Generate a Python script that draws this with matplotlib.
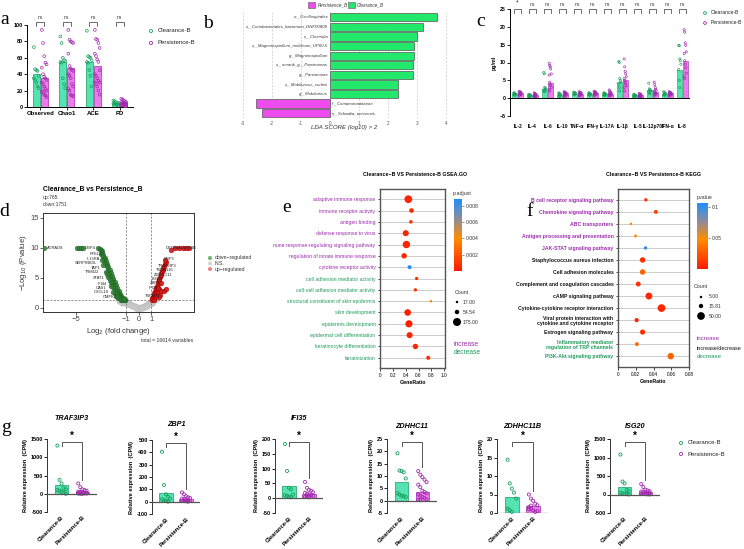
import numpy as np
import matplotlib
matplotlib.use('Agg')
import matplotlib.pyplot as plt
from matplotlib.colors import LinearSegmentedColormap, Normalize
from matplotlib.cm import ScalarMappable
from matplotlib.patches import Rectangle

# ====================== DATA ======================
# ---- panel a ----
a_groups = ['Observed', 'Chao1', 'ACE', 'PD']
a_clear_bar = [40, 55, 55, 5]
a_pers_bar = [35, 47, 50, 5]
a_clear_pts = [
    [73, 46, 45, 44, 38, 35, 33, 30, 25, 23],
    [86, 78, 60, 57, 56, 55, 54, 35, 28, 23],
    [93, 62, 61, 60, 57, 55, 54, 45, 38, 25],
    [8, 7, 6, 5, 5, 4, 4, 3, 3, 2],
]
a_pers_pts = [
    [94, 78, 62, 54, 52, 48, 40, 37, 35, 33, 30, 28, 25, 22, 20, 19, 18, 15, 14, 12],
    [94, 82, 80, 79, 78, 65, 50, 47, 45, 44, 40, 38, 35, 28, 25, 22, 20, 15, 14, 13],
    [94, 83, 82, 78, 72, 65, 62, 58, 55, 45, 40, 38, 35, 32, 30, 30, 28, 25, 20, 15],
    [10, 9, 8, 7, 6, 6, 5, 5, 5, 4, 4, 4, 3, 3, 3, 2, 2, 2, 1, 1],
]
a_sig = ['ns', 'ns', 'ns', 'ns']

# ---- panel b (LEfSe) ----
b_taxa = ['o__Oscillospirales', 's__Coriobacteriales_bacterium_DNF00809', 'c__Clostridia',
          's__Magnetospirillum_moliticum_UP60-5', 'g__Magnetospirillum', 's__norank_g__Parvimonas',
          'g__Parvimonas', 's__Mobiluncus_curtisii', 'g__Mobiluncus', 'f__Comamonadaceae',
          's__Schaalia_turicensis']
b_lda = [3.7, 3.2, 3.0, 2.9, 2.9, 2.85, 2.85, 2.35, 2.35, -2.55, -2.35]
b_ticks = [-3, -2, -1, 0, 1, 2, 3, 4]

# ---- panel c (cytokines) ----
c_cyto = ['IL-2', 'IL-4', 'IL-6', 'IL-10', 'TNF-α', 'IFN-γ', 'IL-17A', 'IL-1β', 'IL-5',
          'IL-12p70', 'IFN-α', 'IL-8']
c_clear_bar = [1.2, 0.8, 2.5, 1.0, 1.3, 1.2, 1.2, 4.5, 0.8, 2.2, 1.2, 8.0]
c_pers_bar = [1.5, 1.0, 4.3, 1.5, 1.3, 1.5, 1.3, 5.2, 0.8, 1.8, 1.4, 10.5]
c_clear_pts = [
    [1.5, 1.4, 1.3, 1.2, 1.1, 1.0, 0.9, 0.8],
    [1.1, 1.0, 0.9, 0.8, 0.7, 0.6, 0.5, 0.4],
    [7.2, 6.8, 3.0, 2.8, 2.5, 2.3, 2.0, 1.8],
    [1.5, 1.3, 1.2, 1.0, 0.9, 0.8, 0.6, 0.5],
    [1.7, 1.6, 1.5, 1.4, 1.3, 1.2, 1.1, 1.0],
    [1.5, 1.4, 1.3, 1.2, 1.1, 1.0, 0.9, 0.8],
    [1.5, 1.4, 1.3, 1.2, 1.1, 1.0, 0.9, 0.8],
    [10.3, 10.0, 5.5, 5.0, 4.5, 4.0, 3.0, 2.0],
    [1.1, 1.0, 0.9, 0.8, 0.7, 0.6, 0.5, 0.4],
    [4.2, 2.6, 2.4, 2.2, 2.0, 1.8, 1.5, 1.2],
    [1.8, 1.6, 1.4, 1.3, 1.2, 1.0, 0.9, 0.8],
    [14.8, 14.7, 11.0, 10.5, 9.5, 8.0, 5.0, 3.0],
]
c_pers_pts = [
    [1.9, 1.8, 1.7, 1.6, 1.5, 1.4, 1.3, 1.2, 1.1, 1.0, 0.9, 0.8],
    [1.5, 1.3, 1.2, 1.1, 1.0, 0.9, 0.8, 0.7, 0.6, 0.5, 0.4, 0.3],
    [9.8, 9.2, 8.8, 8.2, 6.8, 6.5, 4.5, 4.0, 3.5, 3.0, 2.5, 2.0],
    [1.8, 1.7, 1.6, 1.5, 1.4, 1.3, 1.2, 1.1, 1.0, 0.8, 0.6, 0.5],
    [1.8, 1.7, 1.6, 1.5, 1.4, 1.3, 1.2, 1.1, 1.0, 0.9, 0.8, 0.7],
    [1.9, 1.8, 1.7, 1.6, 1.5, 1.4, 1.3, 1.2, 1.1, 1.0, 0.9, 0.8],
    [2.3, 2.0, 1.7, 1.5, 1.4, 1.3, 1.2, 1.1, 1.0, 0.9, 0.8, 0.7],
    [11.0, 8.8, 7.5, 6.8, 6.0, 5.5, 5.0, 4.5, 4.0, 3.5, 3.0, 2.0],
    [1.3, 1.2, 1.1, 1.0, 0.9, 0.8, 0.7, 0.6, 0.5, 0.4, 0.3, 0.2],
    [4.5, 3.8, 3.0, 2.5, 2.2, 2.0, 1.8, 1.5, 1.3, 1.1, 1.0, 0.8],
    [1.8, 1.7, 1.6, 1.5, 1.4, 1.3, 1.2, 1.1, 1.0, 0.9, 0.8, 0.7],
    [19.2, 18.5, 15.5, 14.8, 13.0, 12.5, 10.5, 9.5, 8.5, 7.0, 6.0, 5.5],
]
c_sig = ['*'] + ['ns'] * 11

# ---- panel d (volcano) ----
d_down_x = [-7.5, -4.9, -4.75, -4.6, -4.45, -3.2, -3.1, -3.0, -2.95, -2.9, -3.0, -2.8, -2.85, -2.7,
            -2.75, -2.6, -2.65, -2.5, -2.55, -2.4, -2.45, -2.3, -2.35, -2.2, -2.25, -2.1, -2.15, -2.0,
            -2.05, -1.9, -1.95, -1.8, -1.85, -1.7, -1.75, -1.6, -1.65, -1.5, -1.55, -1.4, -1.45, -1.3,
            -1.35, -1.2, -1.1, -1.05, -2.6, -2.4, -2.3, -2.1, -2.0, -1.9, -1.8, -1.7, -1.6, -1.5, -1.4,
            -2.8, -2.5, -2.2, -1.9, -1.7, -1.3, -2.9, -2.2, -2.0, -1.8, -1.6, -1.4, -1.25, -1.15]
d_down_y = [10.0, 10.0, 10.0, 10.0, 10.0, 9.9, 9.8, 9.7, 9.4, 9.1, 8.9, 8.8, 8.4, 8.3,
            7.9, 7.8, 7.4, 7.3, 6.9, 6.8, 6.4, 6.3, 5.9, 5.8, 5.4, 5.3, 4.9, 4.8,
            4.4, 4.3, 3.9, 3.8, 3.4, 3.3, 2.9, 2.8, 2.5, 2.4, 2.1, 2.0, 1.8, 1.7,
            1.5, 1.5, 1.4, 1.35, 6.0, 5.2, 4.6, 4.0, 3.5, 3.0, 2.6, 2.2, 1.9, 1.6, 1.4,
            7.2, 5.6, 4.4, 2.5, 1.8, 1.35, 8.0, 3.6, 2.6, 2.0, 1.6, 1.45, 1.6, 1.5]
d_up_x = [1.05, 1.1, 1.15, 1.2, 1.25, 1.3, 1.35, 1.4, 1.45, 1.5, 1.55, 1.6, 1.65, 1.7, 1.75, 1.8,
          1.85, 1.9, 1.95, 2.0, 2.1, 2.2, 1.2, 1.3, 1.4, 1.5, 1.6, 1.25, 1.8, 1.7, 2.0, 1.6, 2.2,
          1.35, 1.5, 1.75, 2.1, 2.6, 2.9, 3.2, 3.5, 3.8, 4.0]
d_up_y = [1.35, 1.6, 1.9, 2.2, 2.5, 2.8, 3.1, 3.4, 3.7, 4.0, 4.3, 4.6, 4.9, 5.2, 5.5, 5.8,
          6.1, 6.4, 6.7, 7.0, 7.3, 7.6, 1.5, 1.9, 2.3, 2.7, 3.2, 1.4, 2.8, 2.2, 2.9, 1.9, 3.2,
          2.0, 3.3, 4.2, 8.0, 9.7, 10.0, 10.0, 10.0, 10.0, 10.0]
d_ns_x = [-1.6, -1.5, -1.4, -1.3, -1.2, -1.1, -1.0, -0.9, -0.8, -0.7, -0.6, -0.5, -0.4, -0.3,
          -0.2, -0.1, 0.0, 0.1, 0.2, 0.3, 0.4, 0.5, 0.6, 0.7, 0.8, 0.9, 1.0, 1.1, 1.2, 1.3,
          -1.3, -1.1, -0.9, -0.7, -0.5, -0.3, -0.1, 0.1, 0.3, 0.5, 0.7, 0.9, 1.1, -1.2, -1.0, 1.05]
d_ns_y = [1.2, 1.2, 1.25, 1.2, 1.25, 1.2, 1.15, 1.0, 0.85, 0.7, 0.55, 0.45, 0.35, 0.25,
          0.15, 0.1, 0.05, 0.05, 0.1, 0.15, 0.25, 0.35, 0.5, 0.65, 0.8, 0.95, 1.1, 1.2, 1.25, 1.25,
          0.9, 0.8, 0.7, 0.5, 0.3, 0.1, -0.1, -0.1, 0.0, 0.15, 0.4, 0.6, 0.9, 1.0, 0.95, 0.8]
d_gene_lab = ['ACRADS', 'GBP4', 'RTEL1', 'IL15RA', 'SERPINB3L', 'TAP1', 'TRIM22', 'STAT1', 'IFI44',
              'OAS1', 'CXCL10', 'CMPK2', 'DEFB4A', 'DEFB4B', 'GBP5', 'TRAF3IP3', 'TSPAN16',
              'ZDHHC11', 'ISG20', 'ZBP1', 'IFI35', 'TSPAN1']
d_gene_x = [-7.3, -4.3, -2.9, -3.1, -3.3, -3.0, -3.1, -2.7, -2.5, -2.6, -2.4, -1.7, 2.15, 3.3,
            2.0, 1.5, 1.4, 1.2, 1.0, 0.9, 0.8, 0.5]
d_gene_y = [10.0, 10.0, 9.0, 8.2, 7.4, 6.6, 6.0, 5.0, 4.0, 3.4, 2.7, 1.9, 10.0, 10.0,
            8.2, 7.0, 6.3, 5.5, 4.8, 4.2, 3.4, 2.0]

# ---- panel e (GSEA GO) ----
e_terms = ['adaptive immune response', 'immune receptor activity', 'antigen binding',
           'defense response to virus', 'nune response-regulating signaling pathway',
           'regulation of innate immune response', 'cytokine receptor activity',
           'cell adhesion mediator activity', 'cell-cell adhesion mediator activity',
           'structural constituent of skin epidermis', 'skin development', 'epidermis development',
           'epidermal cell differentiation', 'keratinocyte differentiation', 'keratinization']
e_ratio = [0.44, 0.49, 0.48, 0.40, 0.41, 0.375, 0.46, 0.57, 0.55, 0.79, 0.43, 0.45, 0.46, 0.55, 0.75]
e_count = [165, 60, 35, 100, 150, 80, 45, 30, 30, 17, 120, 140, 100, 80, 45]
e_padj = [0.0003, 0.0005, 0.0008, 0.0004, 0.0003, 0.0004, 0.0086, 0.0007, 0.0008, 0.0038,
          0.0002, 0.0002, 0.0003, 0.0004, 0.0006]
e_dir = ['inc'] * 7 + ['dec'] * 8

# ---- panel f (KEGG) ----
f_terms = ['B cell receptor signaling pathway', 'Chemokine signaling pathway', 'ABC transporters',
           'Antigen processing and presentation', 'JAK-STAT signaling pathway',
           'Staphylococcus aureus infection', 'Cell adhesion molecules',
           'Complement and coagulation cascades', 'cAMP signaling pathway',
           'Cytokine-cytokine receptor interaction',
           'Viral protein interaction with\ncytokine and cytokine receptor',
           'Estrogen signaling pathway', 'Inflammatory mediator\nregulation of TRP channels',
           'PI3K-Akt signaling pathway']
f_ratio = [0.0314, 0.0426, 0.0146, 0.0198, 0.031, 0.0277, 0.0277, 0.0228, 0.0348, 0.049, 0.021,
           0.0277, 0.0213, 0.0594]
f_count = [10, 14, 5, 7, 10, 25, 25, 20, 40, 50, 15, 22, 13, 35]
f_pval = [0.012, 0.018, 0.045, 0.05, 0.1, 0.008, 0.03, 0.01, 0.005, 0.005, 0.006, 0.008, 0.035, 0.03]
f_dir = ['inc'] * 5 + ['both'] * 7 + ['dec'] * 2

# ---- panel g ----
g_genes = ['TRAF3IP3', 'ZBP1', 'IFI35', 'ZDHHC11', 'ZDHHC11B', 'ISG20']
g_clear_bar = [230, 70, 40, 7.5, 4.4, 210]
g_pers_bar = [55, 22, 15, 3.5, 1.8, 80]
g_clear_pts = [
    [1320, 380, 280, 150, 120, 100, 80, 50, 20, 0],
    [405, 135, 60, 40, 25, 20, 10, 5, 0],
    [183, 92, 35, 30, 12, 10, 8, 5, 3],
    [19.2, 12.2, 12.0, 11.5, 9.0, 3.0, 2.5, 2.0, 1.8, 1.5],
    [14.4, 8.0, 6.6, 5.5, 3.9, 1.2, 0.7, 0.3],
    [1080, 350, 300, 120, 100, 50, 30, 20, 10, 0],
]
g_pers_pts = [
    [280, 180, 120, 100, 80, 60, 50, 40, 30, 25, 20, 15, 10, 10, 5, 5, 0, 0],
    [75, 60, 45, 35, 30, 25, 20, 15, 10, 8, 5, 5, 3, 0],
    [55, 35, 28, 25, 20, 18, 15, 12, 10, 8, 5, 5, 3],
    [12, 10.5, 9.5, 8.5, 7.5, 6.5, 5.5, 4, 3.5, 3, 2.5, 2, 1.5, 1, 0.5, 0.3, 0.2],
    [5.0, 3.9, 3.3, 2.5, 2.1, 1.6, 1.2, 0.7, 0.3, 0.5, 1.0, 2.0],
    [280, 200, 130, 110, 90, 80, 70, 60, 50, 40, 30, 20, 10, 5, 0],
]
g_ylim = [(-500, 1500), (-100, 500), (-50, 200), (-5, 25), (0, 20), (-500, 1500)]
g_ystep = [500, 100, 50, 5, 5, 500]
groups = ['Clearance-B', 'Persistence-B']

# ====================== STYLE ======================
W, H = 744, 549
plt.rcParams['font.family'] = ['Liberation Sans', 'DejaVu Sans']
plt.rcParams['axes.linewidth'] = 0.7
CL_FILL, CL_EDGE = '#55E3B3', '#179E5E'
PE_FILL, PE_EDGE = '#EC7CEC', '#A02AAE'
INC_C, DEC_C = '#9C2CAC', '#1E9A5A'
LETTER = dict(family=['Liberation Serif', 'DejaVu Serif'], fontsize=14)

fig = plt.figure(figsize=(W / 100, H / 100), dpi=100)


def px_axes(l, t, r, b):
    return fig.add_axes([l / W, 1 - b / H, (r - l) / W, (b - t) / H])


def dots(ax, x0, vals, color, spread, s=4, lw=0.5):
    n = len(vals)
    offs = np.array([((k % 5) - 2) * spread / 2.0 for k in range(n)])
    ax.scatter(x0 + offs, vals, s=s, facecolors='none', edgecolors=color,
               linewidths=lw, zorder=3, clip_on=False)


texts = []  # (x, y, s, kwargs) in pixel coords, drawn on overlay


def T(x, y, s, **kw):
    texts.append((x, y, s, kw))


# ====================== PANEL a ======================
ax = px_axes(27, 25, 133, 107)
pos = np.arange(len(a_groups))
ax.bar(pos - 0.15, a_clear_bar, width=0.28, color=CL_FILL, edgecolor=CL_EDGE, lw=0.5, zorder=2)
ax.bar(pos + 0.15, a_pers_bar, width=0.28, color=PE_FILL, edgecolor=PE_EDGE, lw=0.5, zorder=2)
for i in range(len(a_groups)):
    dots(ax, pos[i] - 0.15, a_clear_pts[i], CL_EDGE, 0.09)
    dots(ax, pos[i] + 0.15, a_pers_pts[i], PE_EDGE, 0.09)
    ax.plot([pos[i] - 0.15, pos[i] - 0.15, pos[i] + 0.15, pos[i] + 0.15], [99, 103.5, 103.5, 99],
            color='#333', lw=0.5, clip_on=False)
    ax.text(pos[i], 105.5, a_sig[i], ha='center', va='bottom', fontsize=3.6, color='#333')
ax.set_xlim(-0.5, 3.5)
ax.set_ylim(0, 100)
ax.set_yticks(range(0, 101, 20))
ax.set_xticks(pos)
ax.set_xticklabels(a_groups, fontsize=4.3, fontweight='bold')
ax.tick_params(axis='y', labelsize=4, length=2, width=0.6, pad=1)
ax.tick_params(axis='x', length=2, width=0.6, pad=1)
for lab in ax.get_yticklabels():
    lab.set_fontweight('bold')
for sp in ['top', 'right']:
    ax.spines[sp].set_visible(False)
T(5, 20, 'a', **LETTER, ha='center', va='center')

# ====================== PANEL b ======================
ax = px_axes(236, 12, 452, 118)
yb = np.arange(len(b_taxa))
bcol = ['#22E86B' if v > 0 else '#EE4CEE' for v in b_lda]
ax.barh(yb, b_lda, height=0.86, color=bcol, edgecolor='#555555', lw=0.5, zorder=2)
for i, (lab, v) in enumerate(zip(b_taxa, b_lda)):
    if v > 0:
        ax.text(-0.06, i, lab, ha='right', va='center', fontsize=3.1, style='italic', color='#333')
    else:
        ax.text(0.06, i, lab, ha='left', va='center', fontsize=3.1, style='italic', color='#333')
ax.set_xlim(-3.24, 4.21)
ax.set_ylim(len(b_taxa) - 0.5, -0.55)
ax.set_xticks(b_ticks)
ax.set_xticklabels([str(t) for t in b_ticks], fontsize=3.3, color='#555')
ax.set_yticks([])
ax.tick_params(axis='x', length=0, pad=2)
ax.grid(axis='x', color='#C8C8C8', lw=0.5, ls=(0, (3, 2)))
ax.set_axisbelow(True)
for sp in ax.spines.values():
    sp.set_visible(False)
T(344, 127, 'LDA SCORE (log10) > 2', fontsize=4.4, style='italic', color='#333', ha='center', va='center')
fig.add_artist(Rectangle((308 / W, 1 - 8 / H), 7 / W, 6 / H, transform=fig.transFigure,
                         fc='#EE4CEE', ec='#555', lw=0.4))
T(318, 4.5, 'Persistence_B', fontsize=3.3, style='italic', color='#333', va='center')
fig.add_artist(Rectangle((348 / W, 1 - 8 / H), 7 / W, 6 / H, transform=fig.transFigure,
                         fc='#22E86B', ec='#555', lw=0.4))
T(357, 4.5, 'Clearance_B', fontsize=3.3, style='italic', color='#333', va='center')
T(208, 24, 'b', **LETTER, ha='center', va='center')

# ====================== PANEL c ======================
ax = px_axes(510, 9, 690, 116)
pc = np.arange(len(c_cyto))
ax.bar(pc - 0.18, c_clear_bar, width=0.34, color=CL_FILL, edgecolor=CL_EDGE, lw=0.4, zorder=2)
ax.bar(pc + 0.18, c_pers_bar, width=0.34, color=PE_FILL, edgecolor=PE_EDGE, lw=0.4, zorder=2)
for i in range(len(c_cyto)):
    dots(ax, pc[i] - 0.18, c_clear_pts[i], CL_EDGE, 0.07, s=2.5, lw=0.45)
    dots(ax, pc[i] + 0.18, c_pers_pts[i], PE_EDGE, 0.07, s=2.5, lw=0.45)
    ax.plot([pc[i] - 0.25, pc[i] - 0.25, pc[i] + 0.25, pc[i] + 0.25], [24.0, 25.0, 25.0, 24.0],
            color='#333', lw=0.5, clip_on=False)
    ax.text(pc[i], 25.6, c_sig[i], ha='center', va='bottom', fontsize=3.6 if c_sig[i] == 'ns' else 5,
            color='#333')
ax.axhline(0, color='black', lw=0.7, zorder=4)
ax.set_xlim(-0.5, len(c_cyto) - 0.5)
ax.set_ylim(-5, 25)
ax.set_yticks(range(-5, 26, 5))
ax.set_xticks(pc)
ax.set_xticklabels(c_cyto, fontsize=3.5, fontweight='bold')
ax.tick_params(axis='x', length=0, pad=6)
ax.tick_params(axis='y', labelsize=3.8, length=2, width=0.6, pad=1)
for lab in ax.get_yticklabels():
    lab.set_fontweight('bold')
for sp in ['top', 'right', 'bottom']:
    ax.spines[sp].set_visible(False)
ax.set_ylabel('pg/ml', fontsize=3.8, fontweight='bold', labelpad=2)
T(481, 21, 'c', **LETTER, ha='center', va='center')

# ====================== PANEL d ======================
ax = px_axes(43, 213, 194, 312)
ax.scatter(d_ns_x, d_ns_y, s=16, c='#C9C9C9', edgecolors='#BDBDBD', linewidths=0.3, zorder=2)
ax.scatter(d_down_x, d_down_y, s=12, c='#2E7D32', edgecolors='#1B5E20', linewidths=0.3, alpha=0.85, zorder=3)
ax.scatter(d_up_x, d_up_y, s=12, c='#D11414', edgecolors='#9E0000', linewidths=0.3, alpha=0.9, zorder=3)
for lab, x, y in zip(d_gene_lab, d_gene_x, d_gene_y):
    ax.text(x, y, lab, fontsize=2.9, color='#222', ha='left' if x > 0 or x < -4 else 'right',
            va='center', zorder=5)
ax.axvline(-1, color='#666', lw=0.5, ls=(0, (3, 2)))
ax.axvline(1, color='#666', lw=0.5, ls=(0, (3, 2)))
ax.axhline(1.3, color='#666', lw=0.5, ls=(0, (3, 2)))
ax.set_xlim(-7.6, 4.4)
ax.set_ylim(-0.67, 15.8)
ax.set_xticks([-5, -1, 0, 1])
ax.set_xticklabels(['−5', '−1', '0', '1'])
ax.set_yticks([0, 5, 10, 15])
ax.tick_params(labelsize=5.5, length=2, width=0.6, pad=1, colors='#444')
for sp in ax.spines.values():
    sp.set_color('#333')
    sp.set_linewidth(0.7)
ax.set_xlabel('Log$_2$ (fold change)', fontsize=5.5, color='#333', labelpad=2)
ax.set_ylabel('−Log$_{10}$ (Pvalue)', fontsize=5.5, color='#333', labelpad=1)
T(43, 189, 'Clearance_B vs Persistence_B', fontsize=4.9, fontweight='bold', va='center')
T(43, 197, 'up:765', fontsize=3.6, color='#333', va='center')
T(43, 205, 'down:1751', fontsize=3.6, color='#333', va='center')
T(193, 341, 'total = 16614 variables', fontsize=3.7, color='#333', ha='right', va='center')
T(4, 211, 'd', **LETTER, ha='center', va='center')
leg_d = [('down−regulated', '#74B674', 258), ('N.S.', '#D6D6D6', 263.5), ('up−regulated', '#F08585', 269)]

# ====================== colormap ======================
cmap = LinearSegmentedColormap.from_list('pv', [(0, '#FF1A00'), (0.45, '#FF8C00'),
                                                (0.72, '#8E8D9A'), (1.0, '#1E8FFF')])


def dotplot(l, t, r, b, terms, ratio, cnt, pv, dirs, xlim, xticks, xtl, vmax, s_fac, bold):
    ax = px_axes(l, t, r, b)
    n = len(terms)
    y = np.arange(n)
    norm = Normalize(0, vmax)
    for yy in y:
        ax.axhline(yy, color='#C4C4C4', lw=0.6, zorder=1)
    ax.scatter(ratio, y, s=np.array(cnt) * s_fac, c=pv, cmap=cmap, norm=norm, zorder=3,
               edgecolors='none')
    ax.set_xlim(*xlim)
    ax.set_ylim(n - 1 + 0.9, -0.9)
    ax.set_yticks(y)
    ax.set_yticklabels(terms, fontsize=3.7, fontweight='bold' if bold else 'normal', linespacing=1.0)
    cols = {'inc': INC_C, 'dec': DEC_C, 'both': '#111111'}
    for lab, d in zip(ax.get_yticklabels(), dirs):
        lab.set_color(cols[d])
    ax.set_xticks(xticks)
    ax.set_xticklabels(xtl, fontsize=3.4)
    ax.tick_params(axis='both', length=1.8, width=0.5, pad=1.5)
    for sp in ax.spines.values():
        sp.set_color('#555555')
        sp.set_linewidth(1.0)
    ax.set_xlabel('GeneRatio', fontsize=3.8, fontweight='bold', labelpad=2)
    return ax, norm


# ====================== PANEL e ======================
ax_e, norm_e = dotplot(380, 189, 445, 368, e_terms, e_ratio, e_count, e_padj, e_dir,
                       (0, 1.01), [0, 0.2, 0.4, 0.6, 0.8, 1.0],
                       ['0', '0.2', '0.4', '0.6', '0.8', '1.0'], 0.0088, 0.19, False)
cax = px_axes(454, 199, 462, 271)
cb = fig.colorbar(ScalarMappable(norm=norm_e, cmap=cmap), cax=cax)
cb.set_ticks([0.002, 0.004, 0.006, 0.008])
cb.set_ticklabels(['0.002', '0.004', '0.006', '0.008'])
cb.ax.tick_params(labelsize=3.7, length=1.5, width=0.4, pad=1, colors='#333')
cb.outline.set_visible(False)
T(453, 194, 'p.adjust', fontsize=3.8, color='#333', va='center')
T(455, 292, 'Count', fontsize=3.8, color='#333', va='center')
leg_e = [(17, '17.00', 302), (54.54, '54.54', 312), (175, '175.00', 322)]
T(454, 344, 'increase', fontsize=4.8, color=INC_C, va='center')
T(454, 353, 'decrease', fontsize=4.8, color=DEC_C, va='center')
T(415, 174, 'Clearance−B VS Persistence-B GSEA.GO', fontsize=3.8, fontweight='bold', ha='center',
  va='center')
T(287, 208, 'e', **LETTER, ha='center', va='center')

# ====================== PANEL f ======================
ax_f, norm_f = dotplot(618, 189, 689, 367, f_terms, f_ratio, f_count, f_pval, f_dir,
                       (0, 0.08), [0, 0.02, 0.04, 0.06, 0.08], ['0', '0.02', '0.04', '0.06', '0.08'],
                       0.106, 0.62, True)
cax = px_axes(697, 203, 708, 269)
cb = fig.colorbar(ScalarMappable(norm=norm_f, cmap=cmap), cax=cax)
cb.set_ticks([0.05, 0.1])
cb.set_ticklabels(['0.05', '0.1'])
cb.ax.tick_params(labelsize=3.7, length=1.5, width=0.4, pad=1, colors='#333')
cb.outline.set_visible(False)
T(697, 197, 'pvalue', fontsize=3.8, color='#333', va='center')
T(694, 287, 'Count', fontsize=3.8, color='#333', va='center')
leg_f = [(5, '5.00', 297), (15.81, '15.81', 306), (50, '50.00', 316)]
T(697, 339, 'increase', fontsize=4.4, color=INC_C, va='center')
T(697, 348, 'increase/decrease', fontsize=4.0, color='#111', va='center')
T(697, 357, 'decrease', fontsize=4.4, color=DEC_C, va='center')
T(654, 175, 'Clearance−B VS Persistence-B KEGG', fontsize=3.8, fontweight='bold', ha='center',
  va='center')
T(530, 211, 'f', **LETTER, ha='center', va='center')

# ====================== PANEL g ======================
g_boxes = [(47, 439, 97, 512), (152, 440, 200, 514), (275, 439, 323, 513),
           (387, 439, 437, 513), (497, 439, 548, 513), (610, 439, 660, 513)]
g_title_y = [418, 425, 418, 426, 426, 426]
for k, gene in enumerate(g_genes):
    l, t, r, b = g_boxes[k]
    ax = px_axes(l, t, r, b)
    lo, hi = g_ylim[k]
    R = hi - lo
    ax.bar([0], [g_clear_bar[k]], width=0.66, color=CL_FILL, edgecolor=CL_EDGE, lw=0.5, zorder=2)
    ax.bar([1], [g_pers_bar[k]], width=0.66, color=PE_FILL, edgecolor=PE_EDGE, lw=0.5, zorder=2)
    dots(ax, 0, g_clear_pts[k], CL_EDGE, 0.2, s=5, lw=0.6)
    dots(ax, 1, g_pers_pts[k], PE_EDGE, 0.2, s=5, lw=0.6)
    ax.axhline(0, color='#555', lw=0.9, zorder=4)
    ybr = hi - 0.04 * R
    yr = max(g_pers_pts[k]) + 0.05 * R
    ax.plot([0, 0, 1, 1], [hi - 0.1 * R, ybr, ybr, yr], color='#555', lw=0.7, clip_on=False)
    ax.text(0.5, ybr + 0.01 * R, '*', ha='center', va='bottom', fontsize=7, fontweight='bold')
    ax.set_xlim(-0.7, 1.7)
    ax.set_ylim(lo, hi)
    ax.set_yticks(np.arange(lo, hi + 1e-9, g_ystep[k]))
    ax.yaxis.set_major_formatter(matplotlib.ticker.FuncFormatter(lambda v, p: '%g' % v))
    ax.set_xticks([0, 1])
    ax.set_xticklabels(groups, rotation=45, ha='right', va='top', rotation_mode='anchor',
                       fontsize=4.2, fontweight='bold')
    ax.tick_params(axis='x', length=0, pad=2)
    ax.tick_params(axis='y', labelsize=4.0, length=2, width=0.6, pad=1)
    for lab in ax.get_yticklabels():
        lab.set_fontweight('bold')
    for sp in ['top', 'right', 'bottom']:
        ax.spines[sp].set_visible(False)
    ax.spines['left'].set_color('#333')
    ax.set_ylabel('Relative expression  (CPM)', fontsize=4.1, fontweight='bold', labelpad=2)
    T((l + r) / 2.0, g_title_y[k], gene, fontsize=5.2, fontweight='bold', style='italic',
      ha='center', va='center')
T(6, 427, 'g', **LETTER, ha='center', va='center')

# ====================== OVERLAY (legends, texts) ======================
ov = fig.add_axes([0, 0, 1, 1])
ov.set_xlim(0, W)
ov.set_ylim(H, 0)
ov.axis('off')
ov.scatter([151, 151], [31, 43], s=5, facecolors='none', edgecolors=[CL_EDGE, PE_EDGE], linewidths=0.6)
ov.text(158, 31, groups[0], fontsize=4.3, va='center', color='#222')
ov.text(158, 43, groups[1], fontsize=4.3, va='center', color='#222')
ov.scatter([705, 705], [13, 23], s=4, facecolors='none', edgecolors=[CL_EDGE, PE_EDGE], linewidths=0.6)
ov.text(711, 13, groups[0], fontsize=3.6, va='center', color='#222')
ov.text(711, 23, groups[1], fontsize=3.6, va='center', color='#222')
ov.scatter([681, 681], [443, 454], s=5, facecolors='none', edgecolors=[CL_EDGE, PE_EDGE], linewidths=0.6)
ov.text(688, 443, groups[0], fontsize=4.3, va='center', color='#222')
ov.text(688, 454, groups[1], fontsize=4.3, va='center', color='#222')
for lab, col, yy in leg_d:
    ov.scatter([210], [yy], s=9, c=col, edgecolors='none')
    ov.text(215, yy, lab, fontsize=3.7, va='center', color='#333')
for cnt, lab, yy in leg_e:
    ov.scatter([457], [yy], s=cnt * 0.19, c='black', edgecolors='none')
    ov.text(463, yy, lab, fontsize=3.7, va='center', color='#333')
for cnt, lab, yy in leg_f:
    ov.scatter([701], [yy], s=cnt * 0.62, c='black', edgecolors='none')
    ov.text(709, yy, lab, fontsize=3.7, va='center', color='#333')
for x, y, s, kw in texts:
    ov.text(x, y, s, **kw)

fig.savefig('out.png', dpi=100)
